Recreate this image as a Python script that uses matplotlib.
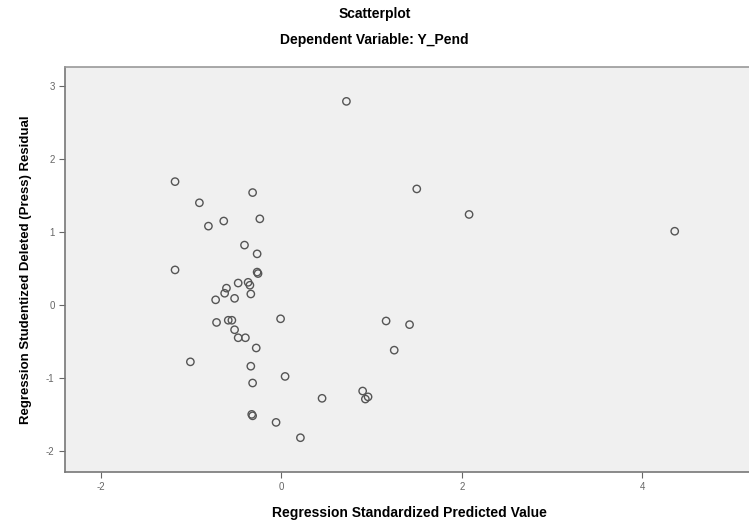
import matplotlib
matplotlib.use('Agg')
import matplotlib.pyplot as plt

plt.rcParams['font.family'] = ['Liberation Sans', 'DejaVu Sans']
plt.rcParams['axes.unicode_minus'] = False

# predicted (standardized) vs studentized deleted residual
pred = [-1.18, -0.32, -0.91, -0.64, -0.24, -0.81, -0.41, -0.27, -1.18, -0.27,
        -0.26, -0.48, -0.37, -0.35, -0.34, -0.61, -0.63, -0.52, -0.73, -0.01,
        -0.72, -0.59, -0.55, -0.52, -0.48, -0.40, -0.28, -1.01, -0.34, -0.32,
        0.04, -0.33, -0.32, -0.06, 0.21, 0.72, 1.50, 2.08, 1.16, 1.42,
        1.25, 0.45, 0.90, 0.93, 0.96, 4.36]
resid = [1.69, 1.54, 1.40, 1.15, 1.18, 1.08, 0.82, 0.70, 0.48, 0.45,
         0.43, 0.30, 0.31, 0.27, 0.15, 0.23, 0.16, 0.09, 0.07, -0.19,
         -0.24, -0.21, -0.21, -0.34, -0.45, -0.45, -0.59, -0.78, -0.84, -1.07,
         -0.98, -1.50, -1.52, -1.61, -1.82, 2.79, 1.59, 1.24, -0.22, -0.27,
         -0.62, -1.28, -1.18, -1.29, -1.26, 1.01]

xticks = [-2, 0, 2, 4]
yticks = [-2, -1, 0, 1, 2, 3]

fig = plt.figure(figsize=(7.49, 5.2), dpi=100)
ax = fig.add_axes([0.0868, 0.0923, 0.92, 0.7787])
ax.set_facecolor('#f0f0f0')

ax.scatter(pred, resid, s=28, facecolors='none', edgecolors='#555555', linewidths=1.0)

ax.set_xlim(-2.40, 5.24)
ax.set_ylim(-2.29, 3.26)
ax.set_xticks(xticks)
ax.set_yticks(yticks)
ax.tick_params(direction='out', length=4, width=0.8, colors='#666666',
               labelsize=7, labelcolor='#666666')

ax.spines['right'].set_visible(False)
for side in ['left', 'bottom', 'top']:
    ax.spines[side].set_color('#777777')
    ax.spines[side].set_linewidth(1.2)
ax.spines['top'].set_color('#999999')

ax.set_xlabel('Regression Standardized Predicted Value', fontsize=10, fontweight='bold', labelpad=10)
ax.set_ylabel('Regression Studentized Deleted (Press) Residual', fontsize=9.5, fontweight='bold', labelpad=10)

fig.text(0.5, 1 - 14 / 520, 'Scatterplot', ha='center', va='center', fontsize=10, fontweight='bold')
fig.text(0.5, 1 - 40 / 520, 'Dependent Variable: Y_Pend', ha='center', va='center', fontsize=10, fontweight='bold')

plt.savefig('out.png', dpi=100)
